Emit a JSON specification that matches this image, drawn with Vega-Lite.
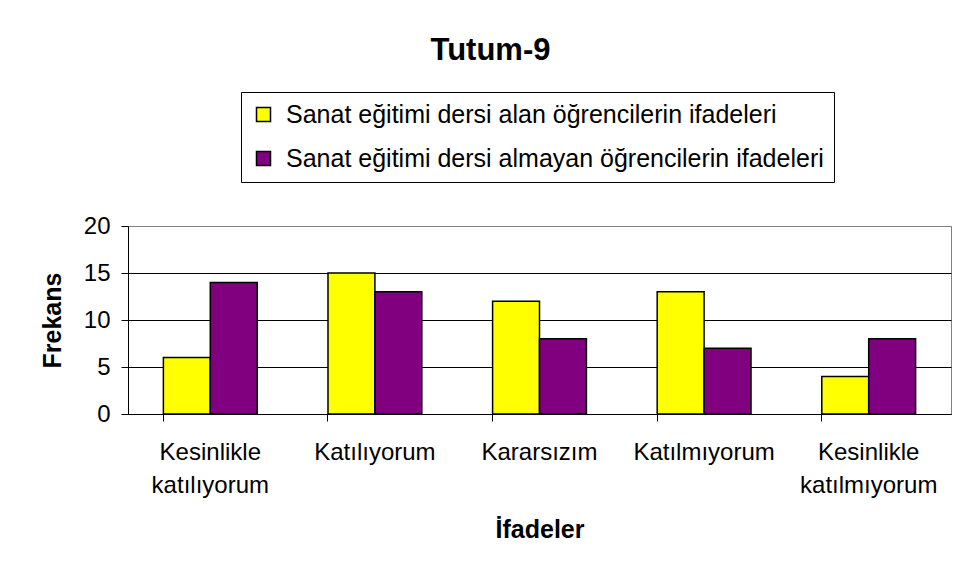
{
  "$schema": "https://vega.github.io/schema/vega-lite/v6.json",
  "width": 823,
  "height": 188,
  "autosize": {"type": "none"},
  "padding": {"left": 128, "top": 226, "right": 10, "bottom": 159},
  "background": "white",
  "title": {
    "text": "Tutum-9",
    "font": "Liberation Sans",
    "fontSize": 31,
    "fontWeight": "bold",
    "color": "black",
    "anchor": "middle",
    "dx": -49,
    "offset": 25
  },
  "data": {
    "values": [
      {"ifade": "Kesinlikle katılıyorum", "grup": "Sanat eğitimi dersi alan öğrencilerin ifadeleri", "frekans": 6},
      {"ifade": "Kesinlikle katılıyorum", "grup": "Sanat eğitimi dersi almayan öğrencilerin ifadeleri", "frekans": 14},
      {"ifade": "Katılıyorum", "grup": "Sanat eğitimi dersi alan öğrencilerin ifadeleri", "frekans": 15},
      {"ifade": "Katılıyorum", "grup": "Sanat eğitimi dersi almayan öğrencilerin ifadeleri", "frekans": 13},
      {"ifade": "Kararsızım", "grup": "Sanat eğitimi dersi alan öğrencilerin ifadeleri", "frekans": 12},
      {"ifade": "Kararsızım", "grup": "Sanat eğitimi dersi almayan öğrencilerin ifadeleri", "frekans": 8},
      {"ifade": "Katılmıyorum", "grup": "Sanat eğitimi dersi alan öğrencilerin ifadeleri", "frekans": 13},
      {"ifade": "Katılmıyorum", "grup": "Sanat eğitimi dersi almayan öğrencilerin ifadeleri", "frekans": 7},
      {"ifade": "Kesinlikle katılmıyorum", "grup": "Sanat eğitimi dersi alan öğrencilerin ifadeleri", "frekans": 4},
      {"ifade": "Kesinlikle katılmıyorum", "grup": "Sanat eğitimi dersi almayan öğrencilerin ifadeleri", "frekans": 8}
    ]
  },
  "mark": {"type": "bar", "stroke": "black", "strokeWidth": 1.5},
  "encoding": {
    "x": {
      "field": "ifade",
      "type": "nominal",
      "sort": ["Kesinlikle katılıyorum", "Katılıyorum", "Kararsızım", "Katılmıyorum", "Kesinlikle katılmıyorum"],
      "scale": {"paddingInner": 0.43, "paddingOuter": 0.215},
      "axis": {
        "title": "İfadeler",
        "titleFont": "Liberation Sans",
        "titleFontSize": 25,
        "titleFontWeight": "bold",
        "titleColor": "black",
        "titlePadding": 20,
        "labelFont": "Liberation Sans",
        "labelFontSize": 24,
        "labelColor": "black",
        "labelAngle": 0,
        "labelPadding": 19,
        "labelLineHeight": 33,
        "labelExpr": "split(datum.label, ' ')",
        "bandPosition": 0,
        "tickSize": 7,
        "tickColor": "black",
        "domainColor": "black",
        "grid": false
      }
    },
    "xOffset": {
      "field": "grup",
      "type": "nominal",
      "sort": ["Sanat eğitimi dersi alan öğrencilerin ifadeleri", "Sanat eğitimi dersi almayan öğrencilerin ifadeleri"]
    },
    "y": {
      "field": "frekans",
      "type": "quantitative",
      "scale": {"domain": [0, 20]},
      "axis": {
        "title": "Frekans",
        "titleFont": "Liberation Sans",
        "titleFontSize": 25,
        "titleFontWeight": "bold",
        "titleColor": "black",
        "titlePadding": 18,
        "values": [0, 5, 10, 15, 20],
        "labelFont": "Liberation Sans",
        "labelFontSize": 24,
        "labelColor": "black",
        "labelPadding": 11,
        "tickSize": 7,
        "tickColor": "black",
        "domainColor": "black",
        "grid": true,
        "gridColor": {"condition": {"test": "datum.value == 20", "value": "#808080"}, "value": "black"},
        "gridOpacity": 1
      }
    },
    "color": {
      "field": "grup",
      "type": "nominal",
      "sort": ["Sanat eğitimi dersi alan öğrencilerin ifadeleri", "Sanat eğitimi dersi almayan öğrencilerin ifadeleri"],
      "scale": {"range": ["#FFFF00", "#800080"]},
      "legend": {
        "title": null,
        "orient": "none",
        "legendX": 113,
        "legendY": -134,
        "direction": "vertical",
        "symbolType": "square",
        "symbolSize": 196,
        "symbolStrokeColor": "black",
        "symbolStrokeWidth": 1.5,
        "symbolOpacity": 1,
        "labelFont": "Liberation Sans",
        "labelFontSize": 25,
        "labelColor": "black",
        "labelOffset": 10,
        "labelLimit": 800,
        "rowPadding": 18,
        "padding": 10,
        "strokeColor": "black",
        "fillColor": "white"
      }
    }
  },
  "config": {
    "view": {"stroke": "#808080", "strokeWidth": 1}
  }
}
